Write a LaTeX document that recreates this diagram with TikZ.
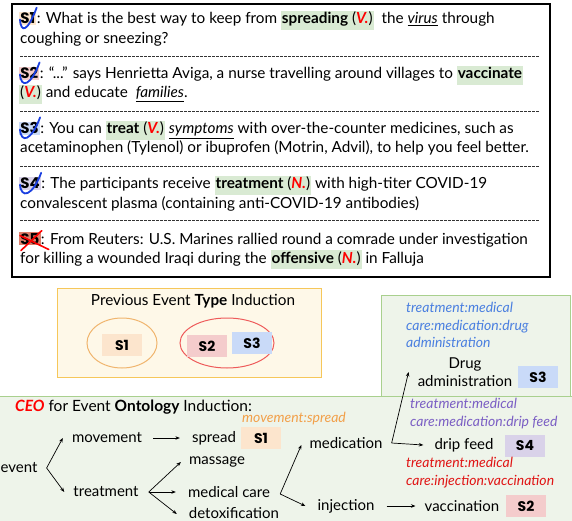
\documentclass[tikz,border=0pt]{standalone}
\usepackage{fontspec}
\usepackage{xcolor}
\setmainfont{Lato}
\newfontfamily\labfont{Poppins}
\usetikzlibrary{arrows.meta,calc}
\definecolor{hlgreen}{HTML}{D9EAD3}
\definecolor{sone}{HTML}{FCE5CD}
\definecolor{stwo}{HTML}{F4CCCC}
\definecolor{sthree}{HTML}{C9DAF8}
\definecolor{sfour}{HTML}{D9D2E9}
\definecolor{sfive}{HTML}{DD7E6B}
\definecolor{prevbg}{HTML}{FEF8E8}
\definecolor{prevline}{HTML}{F6C75A}
\definecolor{ellorange}{HTML}{F0B56E}
\definecolor{ellred}{HTML}{EE5A5A}
\definecolor{greenbg}{HTML}{EEF4EA}
\definecolor{greenline}{HTML}{A9D08E}
\definecolor{typeblue}{HTML}{4A7FE0}
\definecolor{typepurple}{HTML}{7B5FC4}
\definecolor{typered}{HTML}{E01515}
\definecolor{typeorange}{HTML}{F2A04A}
\definecolor{checkblue}{HTML}{1A3FE0}
\newcommand{\hlt}[1]{{\setlength{\fboxsep}{1pt}\colorbox{hlgreen}{\strut #1}}}
\newcommand{\pos}[1]{\textcolor{red}{\textbf{\textit{#1}}}}
\newcommand{\ulit}[1]{\underline{\textit{#1}}}

\begin{document}
\begin{tikzpicture}[x=1pt, y=-1pt,
  txt/.style={inner sep=0pt, font=\fontsize{15.3}{17}\selectfont},
  slab/.style={inner sep=1.2pt, font=\labfont\bfseries\fontsize{15}{16}\selectfont},
  tag/.style={minimum width=40pt, minimum height=22pt, inner sep=0pt,
    font=\labfont\bfseries\fontsize{14}{16}\selectfont},
  cat/.style={inner sep=0pt, font=\fontsize{15}{18}\selectfont},
  lbl/.style={inner sep=0pt, align=left, font=\itshape\fontsize{14}{17.5}\selectfont},
  arr/.style={-{Stealth[length=4.5pt,width=3.5pt]}, line width=0.7pt},
  sep/.style={dash pattern=on 2.5pt off 1.5pt, line width=0.5pt, black!80},
  check/.style={checkblue, line width=1.8pt, line cap=round},
  cross/.style={red, line width=1.6pt, line cap=round}]

  \useasboundingbox (0,0) rectangle (572,521);

  % --- Sentences ---
  \draw[line width=1.6pt] (12,4) rectangle (550,277);
  \foreach \y in {56,111,166,220}
    \draw[sep] (20,\y) -- (540,\y);

  \node[slab, fill=sone, anchor=base west] (s1) at (19,24) {S1};
  \node[txt, anchor=base west] (s1a) at (s1.base east)
    {: What is the best way to keep from \hlt{\textbf{spreading} (\pos{V.})}\ \ the \ulit{virus} through};
  \node[txt, anchor=base west] (s1b) at (20,44) {coughing or sneezing?};

  \node[slab, fill=stwo, anchor=base west] (s2) at (19,79) {S2};
  \node[txt, anchor=base west] (s2a) at (s2.base east)
    {: “...” says Henrietta Aviga, a nurse travelling around villages to \hlt{\textbf{vaccinate}}};
  \node[txt, anchor=base west] (s2b) at (19,98) {\hlt{(\pos{V.})} and educate \ \ulit{families}.};

  \node[slab, fill=sthree, anchor=base west] (s3) at (19,134) {S3};
  \node[txt, anchor=base west] (s3a) at (s3.base east)
    {: You can \hlt{\textbf{treat} (\pos{V.})} \ulit{symptoms} with over-the-counter medicines, such as};
  \node[txt, anchor=base west] (s3b) at (20,153)
    {acetaminophen (Tylenol) or ibuprofen (Motrin, Advil), to help you feel better.};

  \node[slab, fill=sfour, anchor=base west] (s4) at (19,189) {S4};
  \node[txt, anchor=base west] (s4a) at (s4.base east)
    {: The participants receive \hlt{\textbf{treatment} (\pos{N.})} with high-titer COVID-19};
  \node[txt, anchor=base west] (s4b) at (20,208)
    {convalescent plasma (containing anti-COVID-19 antibodies)};

  \node[slab, fill=sfive, anchor=base west] (s5) at (19,244) {S5};
  \node[txt, anchor=base west] (s5a) at (s5.base east)
    {: From Reuters: U.S. Marines rallied round a comrade under investigation};
  \node[txt, anchor=base west] (s5b) at (20,263)
    {for killing a wounded Iraqi during the \hlt{\textbf{offensive} (\pos{N.})} in Falluja};

  % ticks and cross
  \foreach \s in {s1,s2,s3,s4}
    \draw[check] ($(\s.west)+(1,1)$) .. controls +(1,14) and +(-9,24) .. ($(\s.north east)+(0,-4)$);
  \draw[cross] ($(s5.north east)+(1,-1)$) -- ($(s5.south west)+(2,5)$);
  \draw[cross] ($(s5.west)+(1,-3)$) -- ($(s5.south east)+(8,4)$);

  % --- Previous event type induction ---
  \draw[prevline, fill=prevbg, line width=0.9pt] (57,288) rectangle (321,377);
  \node[inner sep=0pt, font=\fontsize{15.3}{17}\selectfont] (prevtitle) at (193,301)
    {Previous Event \textbf{Type} Induction};
  \draw[ellorange, line width=1pt] (122,343) ellipse (35 and 25);
  \draw[ellred, line width=1pt] (227,343) ellipse (47 and 25);
  \node[tag, fill=sone] (p1) at (122,345) {S1};
  \node[tag, fill=stwo] (p2) at (207,346) {S2};
  \node[tag, fill=sthree] (p3) at (252,343) {S3};

  % --- CEO ontology induction ---
  \draw[greenline, fill=greenbg, line width=1pt] (-1,396) rectangle (573,522);
  \draw[greenline, fill=greenbg, line width=1pt] (381,295) rectangle (570,396);

  \node[inner sep=0pt, anchor=west, font=\fontsize{15.5}{18}\selectfont] (ceotitle) at (15,407)
    {\textcolor{red}{\textbf{\textit{CEO}}} for Event \textbf{Ontology} Induction:};

  \node[cat] (event) at (19,468) {event};
  \node[cat] (movement) at (107,438) {movement};
  \node[cat] (treatment) at (106,492) {treatment};
  \node[cat] (spread) at (214,438) {spread};
  \node[tag, fill=sone] (tS1) at (261,438) {S1};
  \node[cat] (massage) at (217,462) {massage};
  \node[cat] (medcare) at (229,492) {medical care};
  \node[cat] (detox) at (234,513) {detoxification};
  \node[cat] (medication) at (346,443) {medication};
  \node[cat] (injection) at (346,506) {injection};
  \node[cat] (vaccination) at (462,506) {vaccination};
  \node[tag, fill=stwo] (tS2) at (526,506) {S2};
  \node[cat] (dripfeed) at (464,445) {drip feed};
  \node[tag, fill=sfour] (tS4) at (525,446) {S4};
  \node[cat, align=center] (drugadmin) at (465,372) {Drug\\administration};
  \node[tag, fill=sthree] (tS3) at (538,377) {S3};

  \node[lbl, text=typeorange, anchor=west] (tyS1) at (242,419) {movement:spread};
  \node[lbl, text=typeblue, anchor=north west] (tyS3) at (406,302)
    {treatment:medical\\care:medication:drug\\administration};
  \node[lbl, text=typepurple, anchor=north west] (tyS4) at (410,398)
    {treatment:medical\\care:medication:drip feed};
  \node[lbl, text=typered, anchor=north west] (tyS2) at (406,457)
    {treatment:medical\\care:injection:vaccination};

  % forks
  \coordinate (f0) at ([xshift=9pt]event.east);
  \draw[arr] (f0) -- ([xshift=-9pt]movement.west);
  \draw[arr] (f0) -- ([xshift=-9pt]treatment.west);
  \coordinate (f1) at ([xshift=10pt]treatment.east);
  \draw[arr] (f1) -- ([xshift=-8pt]massage.west);
  \draw[arr] (f1) -- ([xshift=-12pt]medcare.west);
  \draw[arr] (f1) -- ([xshift=-12pt,yshift=-1pt]detox.west);
  \coordinate (f2) at ([xshift=10pt,yshift=-2pt]medcare.east);
  \draw[arr] (f2) -- ([xshift=-8pt,yshift=-2pt]medication.west);
  \draw[arr] (f2) -- ([xshift=-12pt]injection.west);
  \coordinate (f3) at ([xshift=9pt]medication.east);
  \draw[arr] (f3) -- ([xshift=-9pt]drugadmin.west);
  \draw[arr] (f3) -- ([xshift=-11pt]dripfeed.west);
  \draw[arr] ([xshift=11pt]movement.east) -- ([xshift=-12pt]spread.west);
  \draw[arr] ([xshift=12pt]injection.east) -- ([xshift=-9pt]vaccination.west);

\end{tikzpicture}
\end{document}
